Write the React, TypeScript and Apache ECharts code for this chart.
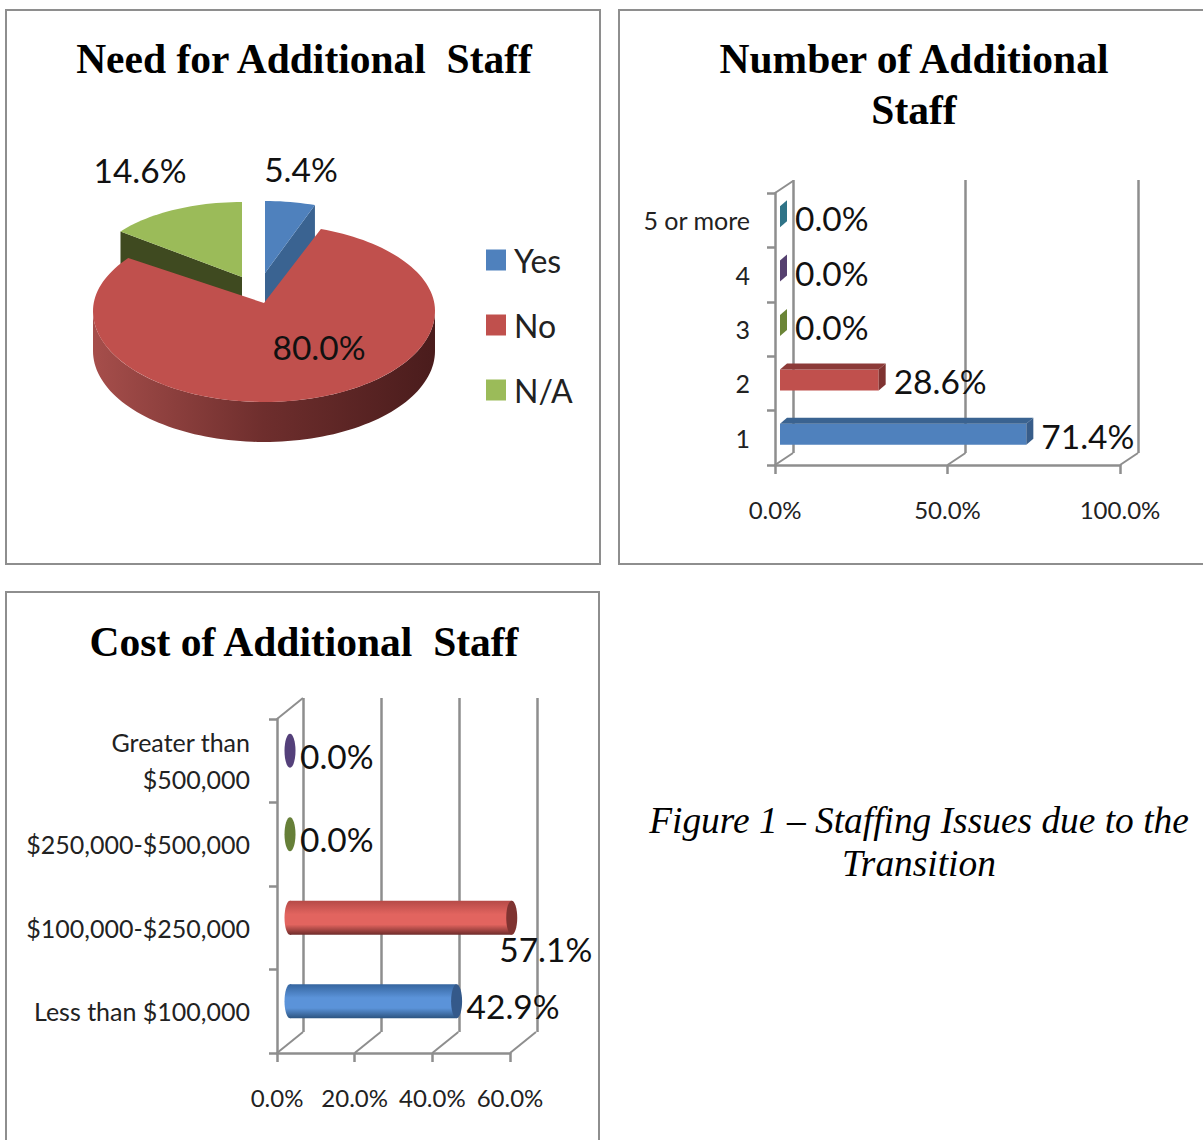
import React, { useEffect, useRef } from "react";
import * as echarts from "echarts";

const SANS = "Lato";
const SERIF = "Liberation Serif";
const GRAY = "#8e8e8e";
const VALUE_FONT = `33.5px ${SANS}`;

const pieNames = ["Yes", "No", "N/A"];
const pieValues = [5.4, 80.0, 14.6];
const pieColors = ["#4f81bd", "#c0504d", "#9bbb59"];

const countCategories = ["1", "2", "3", "4", "5 or more"];
const countValues = [71.4, 28.6, 0.0, 0.0, 0.0];
const countTicks = [0, 50, 100];
const countFront = ["#4f81bd", "#c0504d", "#9bbb59", "#8064a2", "#4bacc6"];
const countTop = ["#3a6391", "#8c3a38", "#6b8537", "#55406f", "#2f7387"];
const countSide = ["#385d8a", "#7f3331", "#6b8537", "#55406f", "#2f7387"];

const costCategories = ["Less than $100,000", "$100,000-$250,000", "$250,000-$500,000", "Greater than\n$500,000"];
const costValues = [42.9, 57.1, 0.0, 0.0];
const costTicks = [0, 20, 40, 60];
const costBody = [
  ["#35659f", "#5b93d9", "#2c5480"],
  ["#b54a47", "#e2645f", "#6e2b2a"],
];
const costCap = ["#34598a", "#7f3331", "#667f38", "#54407a"];

const captionLines = ["Figure 1 – Staffing Issues due to the", "Transition"];

const pct = (v: number) => v.toFixed(1) + "%";

function ellipsePoints(cx: number, cy: number, rx: number, ry: number, a0: number, a1: number, ryBack = ry) {
  const pts: number[][] = [];
  const n = Math.max(2, Math.ceil((a1 - a0) / 2));
  for (let i = 0; i <= n; i++) {
    const t = ((a0 + ((a1 - a0) * i) / n) * Math.PI) / 180;
    const c = Math.cos(t);
    pts.push([cx + rx * Math.sin(t), cy - (c > 0 ? ryBack : ry) * c]);
  }
  return pts;
}

const total = pieValues.reduce((a, b) => a + b, 0);
const pieStart = (i: number) => (pieValues.slice(0, i).reduce((a, b) => a + b, 0) / total) * 360;

function pieLabel(text: string, x: number, y: number, z2: number) {
  return {
    type: "text",
    z2,
    style: { text, x, y, fill: "#111", font: VALUE_FONT, textAlign: "center", textVerticalAlign: "middle" },
  };
}

function renderYes(_p: any, api: any) {
  const v = api.value(0);
  const a0 = pieStart(0);
  const a1 = a0 + (v / total) * 360;
  const cx = 265, cy = 273;
  const arc = ellipsePoints(cx, cy, 150, 72, a0, a1);
  const end = arc[arc.length - 1];
  return {
    type: "group",
    children: [
      { type: "polygon", shape: { points: [[cx, cy], end, [end[0], end[1] + 40], [cx, cy + 40]] }, style: { fill: "#3a6391" } },
      { type: "polygon", shape: { points: [[cx, cy], ...arc] }, style: { fill: pieColors[0] } },
      pieLabel(pct(v), 301, 169, 5),
    ],
  };
}

function renderNA(_p: any, api: any) {
  const v = api.value(0);
  const a0 = pieStart(2);
  const a1 = a0 + (v / total) * 360;
  const cx = 242, cy = 277;
  const arc = ellipsePoints(cx, cy, 153, 75, a0, a1);
  const st = arc[0];
  return {
    type: "group",
    children: [
      { type: "polygon", shape: { points: [[cx, cy], st, [st[0], st[1] + 35], [cx, cy + 35]] }, style: { fill: "#3f4a20" } },
      { type: "polygon", shape: { points: [[cx, cy], ...arc] }, style: { fill: pieColors[2] } },
      pieLabel(pct(v), 140, 170, 5),
    ],
  };
}

function renderNo(_p: any, api: any) {
  const v = api.value(0);
  const a0 = pieStart(1);
  const a1 = a0 + (v / total) * 360;
  const cx = 264, cy = 311, rx = 171, ry = 91, depth = 40;
  const front = ellipsePoints(cx, cy, rx, ry, 90, 270);
  const lower = front.map((p) => [p[0], p[1] + depth]).reverse();
  return {
    type: "group",
    children: [
      {
        type: "polygon",
        shape: { points: [...front, ...lower] },
        style: {
          fill: new echarts.graphic.LinearGradient(0, 0, 1, 0, [
            { offset: 0, color: "#a64e4b" },
            { offset: 0.5, color: "#6e2e2d" },
            { offset: 1, color: "#4a1c1c" },
          ]),
        },
      },
      { type: "polygon", shape: { points: [[cx, cy - 8], ...ellipsePoints(cx, cy, rx, ry, a0, a1, 87)] }, style: { fill: pieColors[1] } },
      pieLabel(pct(v), 319, 347, 5),
    ],
  };
}

function renderBox(_p: any, api: any) {
  const i = api.value(1);
  const v = api.value(0);
  const [xv, yc] = api.coord([v, i]);
  const [x0] = api.coord([0, i]);
  const left = x0 + 5, right = xv + 5;
  const top = yc - 14, bottom = yc + 7;
  const dx = 7, dy = 6;
  const children: any[] = [];
  if (v > 0) {
    children.push({ type: "rect", shape: { x: left, y: top, width: right - left, height: bottom - top }, style: { fill: countFront[i] } });
    children.push({
      type: "polygon",
      shape: { points: [[left, top], [left + dx, top - dy], [right + dx, top - dy], [right, top]] },
      style: { fill: countTop[i] },
    });
  }
  children.push({
    type: "polygon",
    shape: { points: [[right, top], [right + dx, top - dy], [right + dx, bottom - dy], [right, bottom]] },
    style: { fill: countSide[i] },
  });
  children.push({
    type: "text",
    style: {
      text: pct(v),
      x: right + dx + 8,
      y: yc - 2,
      fill: "#111",
      font: VALUE_FONT,
      textAlign: "left",
      textVerticalAlign: "middle",
    },
  });
  return { type: "group", children };
}

function renderCylinder(_p: any, api: any) {
  const i = api.value(1);
  const v = api.value(0);
  const [xv, yc] = api.coord([v, i]);
  const [x0] = api.coord([0, i]);
  const left = x0 + 13, right = xv + 13;
  const cy = yc - 10, ry = 17, rx = 5.5;
  const children: any[] = [];
  if (v > 0) {
    const c = costBody[i];
    const grad = new echarts.graphic.LinearGradient(0, 0, 0, 1, [
      { offset: 0, color: c[0] },
      { offset: 0.4, color: c[1] },
      { offset: 0.7, color: c[1] },
      { offset: 1, color: c[2] },
    ]);
    children.push({ type: "ellipse", shape: { cx: left, cy, rx, ry }, style: { fill: grad } });
    children.push({ type: "rect", shape: { x: left, y: cy - ry, width: right - left, height: ry * 2 }, style: { fill: grad } });
  }
  children.push({ type: "ellipse", shape: { cx: right, cy, rx, ry }, style: { fill: costCap[i] } });
  const over = i === 1;
  children.push({
    type: "text",
    style: {
      text: pct(v),
      x: over ? right + 34 : right + 10,
      y: over ? cy + 31 : cy + 5,
      fill: "#111",
      font: VALUE_FONT,
      textAlign: over ? "center" : "left",
      textVerticalAlign: "middle",
    },
  });
  return { type: "group", children };
}

function wallRenderer(dx: number, dy: number, topCategory: number, withTop: boolean) {
  return (_p: any, api: any) => {
    const tick = api.value(0);
    const [x, yc] = api.coord([tick, 0]);
    const half = api.size([0, 1])[1] / 2;
    const yb = yc + half;
    const children: any[] = [
      { type: "line", shape: { x1: x, y1: yb, x2: x + dx, y2: yb + dy }, style: { stroke: GRAY, lineWidth: 2 } },
    ];
    if (withTop && tick === 0) {
      const yt = api.coord([tick, topCategory])[1] - half;
      children.push({ type: "line", shape: { x1: x, y1: yt, x2: x + dx, y2: yt + dy }, style: { stroke: GRAY, lineWidth: 2 } });
    }
    return { type: "group", children };
  };
}

function valueAxis(gridIndex: number, max: number, interval: number, margin: number, fontSize: number) {
  return {
    type: "value",
    gridIndex,
    min: 0,
    max,
    interval,
    axisLine: { show: true, onZero: false, lineStyle: { color: GRAY, width: 2.5 } },
    axisTick: { show: true, length: 9, lineStyle: { color: GRAY, width: 2.5 } },
    axisLabel: { show: true, margin, fontFamily: SANS, fontSize, color: "#222", formatter: (v: number) => pct(v), hideOverlap: false },
    splitLine: { show: false },
  };
}

function backX(gridIndex: number, max: number, interval: number) {
  return {
    type: "value",
    gridIndex,
    min: 0,
    max,
    interval,
    axisLine: { show: false },
    axisTick: { show: false },
    axisLabel: { show: false },
    splitLine: { show: true, lineStyle: { color: GRAY, width: 2.5, type: "solid" } },
  };
}

function catAxis(gridIndex: number, data: string[], margin: number, fontSize: number, lineHeight: number) {
  return {
    type: "category",
    gridIndex,
    data,
    axisLine: { show: true, lineStyle: { color: GRAY, width: 2.5 } },
    axisTick: { show: true, length: 8, lineStyle: { color: GRAY, width: 2.5 } },
    axisLabel: { show: true, interval: 0, margin, fontFamily: SANS, fontSize, lineHeight, color: "#222", align: "right", padding: [3, 0, 0, 0] },
  };
}

function backY(gridIndex: number, data: string[]) {
  return { type: "category", gridIndex, data, show: false };
}

export default function App() {
  const ref = useRef<HTMLDivElement>(null);
  useEffect(() => {
    document.body.style.margin = "0";
    const chart = echarts.init(ref.current!, undefined, { renderer: "svg" });
    const titleStyle = { fontFamily: SERIF, fontWeight: "bold", fontSize: 41.5, color: "#000", lineHeight: 51 };
    chart.setOption({
      animation: false,
      backgroundColor: "#fff",
      title: [
        { text: "Need for Additional  Staff", left: 304, top: 33, textAlign: "center", textStyle: titleStyle, padding: 0 },
        { text: "Number of Additional\nStaff", left: 914, top: 33, textAlign: "center", textStyle: titleStyle, padding: 0 },
        { text: "Cost of Additional  Staff", left: 304, top: 616, textAlign: "center", textStyle: titleStyle, padding: 0 },
      ],
      legend: {
        data: pieNames,
        orient: "vertical",
        left: 486,
        top: 244,
        itemWidth: 20,
        itemHeight: 21,
        itemGap: 33,
        icon: "rect",
        textStyle: { fontFamily: SANS, fontSize: 32, color: "#222", padding: [0, 0, 0, 3] },
        selectedMode: false,
        padding: 0,
      },
      graphic: [
        { type: "rect", shape: { x: 6, y: 10, width: 594, height: 554 }, style: { fill: "none", stroke: GRAY, lineWidth: 2 } },
        { type: "rect", shape: { x: 619, y: 10, width: 600, height: 554 }, style: { fill: "none", stroke: GRAY, lineWidth: 2 } },
        { type: "rect", shape: { x: 6, y: 592, width: 593, height: 600 }, style: { fill: "none", stroke: GRAY, lineWidth: 2 } },
        ...captionLines.map((text, i) => ({
          type: "text",
          x: 919,
          y: 820 + i * 43,
          style: { text, fill: "#000", font: `italic 37.4px ${SERIF}`, textAlign: "center", textVerticalAlign: "middle" },
        })),
      ],
      grid: [
        { left: 775, top: 193, width: 345, height: 272, outerBoundsMode: "none" },
        { left: 793, top: 180, width: 345, height: 273, outerBoundsMode: "none" },
        { left: 277, top: 719, width: 233, height: 334, outerBoundsMode: "none" },
        { left: 303, top: 698, width: 234, height: 334, outerBoundsMode: "none" },
      ],
      xAxis: [
        valueAxis(0, 100, 50, 32, 24),
        backX(1, 100, 50),
        valueAxis(2, 60, 20, 32, 24),
        backX(3, 60, 20),
      ],
      yAxis: [
        catAxis(0, countCategories, 25, 25, 30),
        backY(1, countCategories),
        catAxis(2, costCategories, 27, 25, 37),
        backY(3, costCategories),
      ],
      series: [
        { type: "custom", name: "N/A", coordinateSystem: "none", renderItem: renderNA, data: [pieValues[2]], itemStyle: { color: pieColors[2] } },
        { type: "custom", name: "Yes", coordinateSystem: "none", renderItem: renderYes, data: [pieValues[0]], itemStyle: { color: pieColors[0] } },
        { type: "custom", name: "No", coordinateSystem: "none", renderItem: renderNo, data: [pieValues[1]], itemStyle: { color: pieColors[1] } },
        {
          type: "custom",
          name: "count walls",
          xAxisIndex: 0,
          yAxisIndex: 0,
          renderItem: wallRenderer(18, -12, countCategories.length - 1, true),
          data: countTicks.map((t) => [t, 0]),
          encode: { x: 0, y: 1 },
          clip: false,
          silent: true,
        },
        {
          type: "custom",
          name: "Number of Additional Staff",
          xAxisIndex: 0,
          yAxisIndex: 0,
          renderItem: renderBox,
          data: countValues.map((v, i) => [v, i]),
          encode: { x: 0, y: 1 },
          clip: false,
        },
        {
          type: "custom",
          name: "cost walls",
          xAxisIndex: 2,
          yAxisIndex: 2,
          renderItem: wallRenderer(26, -21, costCategories.length - 1, true),
          data: costTicks.map((t) => [t, 0]),
          encode: { x: 0, y: 1 },
          clip: false,
          silent: true,
        },
        {
          type: "custom",
          name: "Cost of Additional Staff",
          xAxisIndex: 2,
          yAxisIndex: 2,
          renderItem: renderCylinder,
          data: costValues.map((v, i) => [v, i]),
          encode: { x: 0, y: 1 },
          clip: false,
        },
      ],
    });
    return () => chart.dispose();
  }, []);
  return <div ref={ref} style={{ position: "absolute", left: 0, top: 0, width: 1203, height: 1140, overflow: "hidden" }} />;
}
